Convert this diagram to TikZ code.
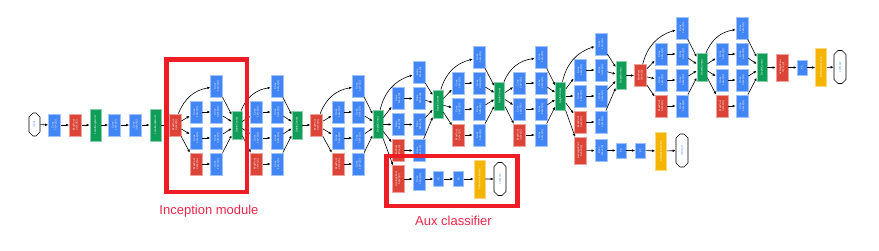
\documentclass[tikz,border=0pt]{standalone}
\usepackage{fontspec}
\setsansfont{Liberation Sans}
\usepackage{graphicx}
\usetikzlibrary{arrows.meta,shapes.misc}
\definecolor{gblue}{HTML}{4285F4}
\definecolor{gred}{HTML}{DB4437}
\definecolor{ggreen}{HTML}{0F9D58}
\definecolor{gyellow}{HTML}{F4B400}
\definecolor{markred}{HTML}{EE1C25}
\definecolor{marktext}{HTML}{E8264A}
\newcommand{\lbl}[2]{\rotatebox{90}{\begin{tabular}{@{}c@{}}#1\\#2\end{tabular}}}
\newcommand{\rot}[1]{\rotatebox{90}{#1}}
% #1 name, #2 input node, #3 x of first column, #4 x of second column,
% #5 x of concat, #6 y of top row, #7 y of concat
\newcommand{\inception}[7]{%
  \node[conv] (#1-c1) at (#4,#6) {\lbl{Conv}{1x1+1(S)}};
  \node[conv] (#1-r3) at (#3,#6+26) {\lbl{Conv}{1x1+1(S)}};
  \node[conv] (#1-r5) at (#3,#6+52) {\lbl{Conv}{1x1+1(S)}};
  \node[pool] (#1-mp) at (#3,#6+78) {\lbl{MaxPool}{3x3+1(S)}};
  \node[conv] (#1-c3) at (#4,#6+26) {\lbl{Conv}{3x3+1(S)}};
  \node[conv] (#1-c5) at (#4,#6+52) {\lbl{Conv}{5x5+1(S)}};
  \node[conv] (#1-pj) at (#4,#6+78) {\lbl{Conv}{1x1+1(S)}};
  \node[concat] (#1-cat) at (#5,#7) {\rot{DepthConcat}};
  \draw[arr] (#2) to[bend left=30] (#1-c1);
  \draw[arr] (#2) -- (#1-r3);
  \draw[arr] (#2) -- (#1-r5);
  \draw[arr] (#2) -- (#1-mp);
  \draw[arr] (#1-r3) -- (#1-c3);
  \draw[arr] (#1-r5) -- (#1-c5);
  \draw[arr] (#1-mp) -- (#1-pj);
  \draw[arr] (#1-c1) -- (#1-cat);
  \draw[arr] (#1-c3) -- (#1-cat);
  \draw[arr] (#1-c5) -- (#1-cat);
  \draw[arr] (#1-pj) -- (#1-cat);
}
\tikzset{
  blk/.style={line width=0.7pt, inner sep=0pt, text=white,
    font=\fontsize{2.6}{3}\selectfont\sffamily},
  conv/.style={blk, fill=gblue, draw=gblue!50!white, minimum width=12, minimum height=22},
  pool/.style={blk, fill=gred, draw=gred!50!white, minimum width=12, minimum height=22},
  avgpool/.style={pool, minimum height=27},
  concat/.style={blk, fill=ggreen, draw=ggreen!50!white, minimum width=10, minimum height=28},
  lrn/.style={concat, minimum width=11, minimum height=32},
  fc/.style={conv, minimum width=10, minimum height=15},
  sftact/.style={blk, fill=gyellow, draw=gyellow!50!white, minimum width=11, minimum height=38},
  endpt/.style={chamfered rectangle, chamfered rectangle xsep=3pt,
    chamfered rectangle ysep=7pt, draw=black, fill=white, line width=0.6pt,
    inner sep=0pt, minimum width=12, minimum height=33, text=gblue,
    font=\fontsize{2.6}{3}\selectfont\sffamily},
  arr/.style={-{Latex[length=3pt,width=2.6pt]}, line width=0.6pt},
  markbox/.style={draw=markred, line width=4.5pt},
  marklbl/.style={text=marktext, font=\fontsize{13}{15}\selectfont\sffamily}
}
\begin{document}
\begin{tikzpicture}[x=1pt,y=-1pt]
\useasboundingbox (0,0) rectangle (879,250);

% stem
\node[endpt, minimum width=11, minimum height=23, chamfered rectangle ysep=5pt] (input) at (34.5,124.5) {\rot{input}};
\node[conv] (conv1) at (54.5,125) {\lbl{Conv}{7x7+2(S)}};
\node[pool] (pool1) at (75.5,125) {\lbl{MaxPool}{3x3+2(S)}};
\node[lrn] (norm1) at (95.5,125) {\rot{LocalRespNorm}};
\node[conv] (conv2r) at (114.5,125) {\lbl{Conv}{1x1+1(V)}};
\node[conv] (conv2) at (135.5,125) {\lbl{Conv}{3x3+1(S)}};
\node[lrn] (norm2) at (155.5,125) {\rot{LocalRespNorm}};
\node[pool] (pool2) at (175,125) {\lbl{MaxPool}{3x3+2(S)}};
\draw[arr] (input) -- (conv1);
\draw[arr] (conv1) -- (pool1);
\draw[arr] (pool1) -- (norm1);
\draw[arr] (norm1) -- (conv2r);
\draw[arr] (conv2r) -- (conv2);
\draw[arr] (conv2) -- (norm2);
\draw[arr] (norm2) -- (pool2);

% inception blocks
\inception{i3a}{pool2}{196}{216.7}{237}{86}{125}
\inception{i3b}{i3a-cat}{256.5}{277}{297}{86}{125}
\node[pool] (pool3) at (316.7,125) {\lbl{MaxPool}{3x3+2(S)}};
\draw[arr] (i3b-cat) -- (pool3);
\inception{i4a}{pool3}{338}{358.5}{378}{86}{124.5}
\inception{i4b}{i4a-cat}{398}{419}{438}{72.5}{104}
\inception{i4c}{i4b-cat}{458.3}{479}{499.7}{57}{96}
\inception{i4d}{i4c-cat}{519.5}{541}{560.5}{57}{96}
\inception{i4e}{i4d-cat}{580}{601}{621}{44}{75.5}
\node[pool] (pool4) at (640.5,75.5) {\lbl{MaxPool}{3x3+2(S)}};
\draw[arr] (i4e-cat) -- (pool4);
\inception{i5a}{pool4}{661}{682}{702}{28}{67.5}
\inception{i5b}{i5a-cat}{722}{742}{762}{28}{67.5}

% head
\node[avgpool] (pool5) at (782,67.5) {\lbl{AveragePool}{7x7+1(V)}};
\node[fc] (fc) at (802,67.5) {\rot{FC}};
\node[sftact] (act2) at (821,67.5) {\rot{SoftmaxActivation}};
\node[endpt] (softmax2) at (840,67) {\rot{softmax2}};
\draw[arr] (i5b-cat) -- (pool5);
\draw[arr] (pool5) -- (fc);
\draw[arr] (fc) -- (act2);
\draw[arr] (act2) -- (softmax2);

% aux classifiers
\node[avgpool] (aux1-pool) at (398,179) {\lbl{AveragePool}{5x5+3(V)}};
\node[conv] (aux1-conv) at (419,179) {\lbl{Conv}{1x1+1(S)}};
\node[fc] (aux1-fc1) at (438.7,179) {\rot{FC}};
\node[fc] (aux1-fc2) at (458.7,179) {\rot{FC}};
\node[sftact] (aux1-act) at (479.5,179) {\rot{SoftmaxActivation}};
\node[endpt] (softmax0) at (500,179) {\rot{softmax0}};
\draw[arr] (i4a-cat) -- (aux1-pool);
\draw[arr] (aux1-pool) -- (aux1-conv);
\draw[arr] (aux1-conv) -- (aux1-fc1);
\draw[arr] (aux1-fc1) -- (aux1-fc2);
\draw[arr] (aux1-fc2) -- (aux1-act);
\draw[arr] (aux1-act) -- (softmax0);

\node[avgpool] (aux2-pool) at (580,150.7) {\lbl{AveragePool}{5x5+3(V)}};
\node[conv] (aux2-conv) at (601,150.5) {\lbl{Conv}{1x1+1(S)}};
\node[fc] (aux2-fc1) at (621,150.5) {\rot{FC}};
\node[fc] (aux2-fc2) at (640.5,150.5) {\rot{FC}};
\node[sftact] (aux2-act) at (661,151) {\rot{SoftmaxActivation}};
\node[endpt] (softmax1) at (682,150.5) {\rot{softmax1}};
\draw[arr] (i4d-cat) -- (aux2-pool);
\draw[arr] (aux2-pool) -- (aux2-conv);
\draw[arr] (aux2-conv) -- (aux2-fc1);
\draw[arr] (aux2-fc1) -- (aux2-fc2);
\draw[arr] (aux2-fc2) -- (aux2-act);
\draw[arr] (aux2-act) -- (softmax1);

% highlights
\draw[markbox] (166.5,59.5) rectangle (247,192);
\draw[markbox] (386.5,156) rectangle (517.5,206);
\node[marklbl] (inclbl) at (209,211) {Inception module};
\node[marklbl] (auxlbl) at (453.5,221) {Aux classifier};
\end{tikzpicture}
\end{document}
